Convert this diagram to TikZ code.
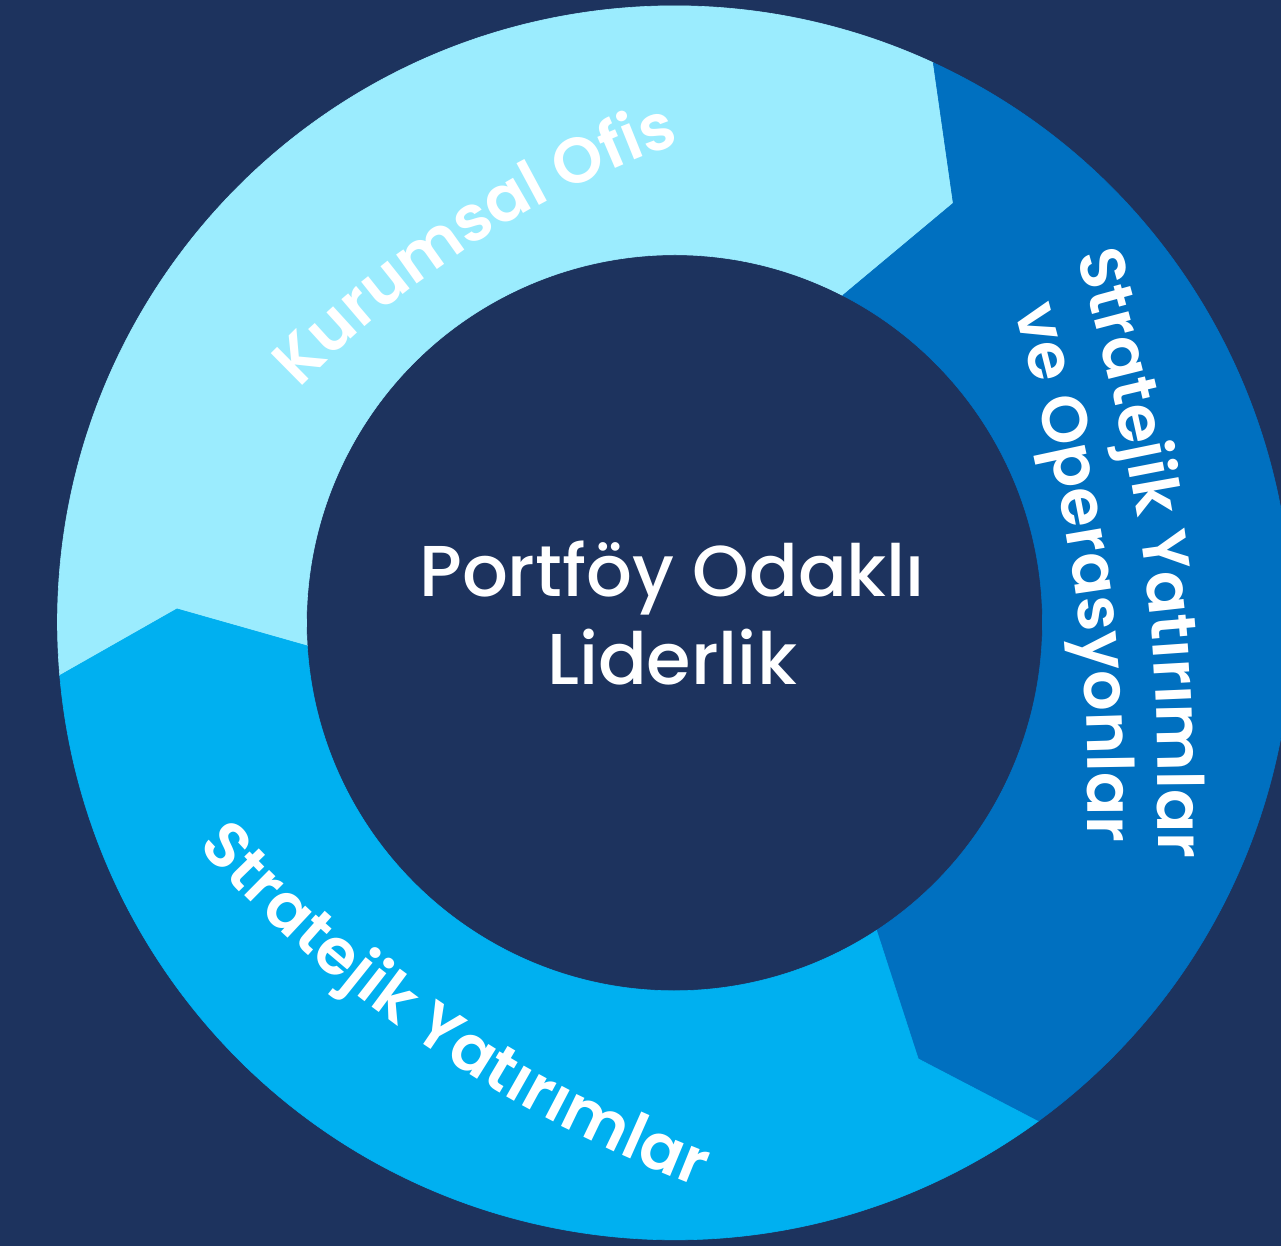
\documentclass[tikz,border=0pt]{standalone}
\usepackage{fontspec}
\setmainfont{Poppins Medium}
\newfontfamily\ringfont{Poppins SemiBold}
\usetikzlibrary{decorations.text}
\definecolor{navy}{HTML}{1D335E}
\definecolor{ofis}{HTML}{9BECFE}
\definecolor{yatirim}{HTML}{00B0F0}
\definecolor{operasyon}{HTML}{0070C0}
\newcommand{\ringsize}{\ringfont\fontsize{64}{72}\selectfont}

\begin{document}
\begin{tikzpicture}[x=1pt, y=-1pt,
  segment/.style={fill=#1, draw=#1, line width=0.6pt},
  ringlabel/.style={decorate, decoration={text along path, text align=center,
      text color=white, text={#1}}}
]
\useasboundingbox (0,0) rectangle (1281,1246);
\fill[navy] (0,0) rectangle (1281,1246);
\clip (0,0) rectangle (1281,1246);

% ring of three arrow-shaped segments around the centre
\begin{scope}[shift={(674.5,622.8)}]
  \path[segment=ofis] (-184.9:617) arc[start angle=-184.9, end angle=-65.2, radius=617]
    -- (-56.4:503.8) -- (-62.8:368) arc[start angle=-62.8, end angle=-183.6, radius=368]
    -- (-178.4:497.7) -- cycle;
  \path[segment=operasyon] (-65.2:617) arc[start angle=-65.2, end angle=53.9, radius=617]
    -- (60.8:499.6) -- (56.7:368) arc[start angle=56.7, end angle=-62.8, radius=368]
    -- (-56.4:503.8) -- cycle;
  \path[segment=yatirim] (53.9:617) arc[start angle=53.9, end angle=175.1, radius=617]
    -- (-178.4:497.7) -- (176.4:368) arc[start angle=176.4, end angle=56.7, radius=368]
    -- (60.8:499.6) -- cycle;
\end{scope}

% curved segment labels
\path[ringlabel={|\ringsize|Kurumsal Ofis}]
  (264.5,424.2) -- (303,385) .. controls (408.7,277.3) and (529.7,198.3) .. (666,148) -- (727,125.5);
\path[ringlabel={|\ringsize|Stratejik Yatırımlar}]
  (165.9,811.3) -- (198,847) .. controls (328,991.7) and (484.7,1101) .. (668,1175) -- (742.2,1204.9);
\path[ringlabel={|\ringsize|Stratejik Yatırımlar}]
  (1058.4,194.3) -- (1075,252) .. controls (1158,540) and (1158,660) .. (1158,860) -- (1158,922);
\path[ringlabel={|\ringsize|ve Operasyonlar}]
  (997.8,246.9) -- (1012,300) .. controls (1084.5,570) and (1088,662) .. (1088,842) -- (1088,907);

% centre title
\node[text=white, align=center, inner sep=0pt, font=\fontsize{72}{88}\selectfont]
  (core) at (672,613.5) {Portföy Odaklı\\Liderlik};
\end{tikzpicture}
\end{document}
